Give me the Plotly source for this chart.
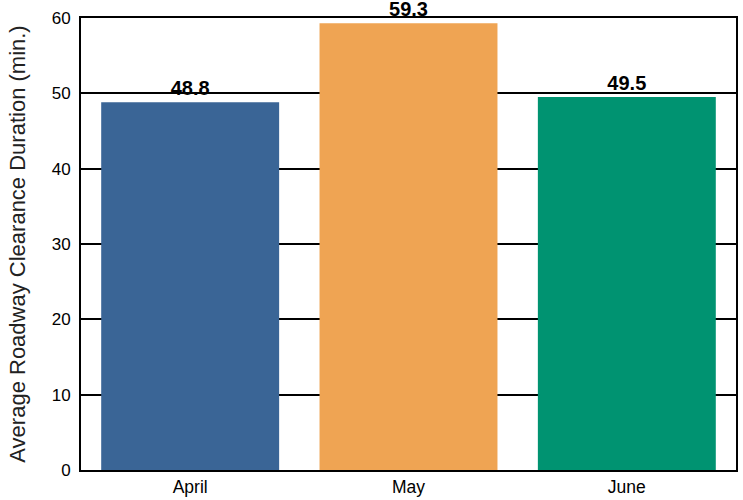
import plotly.graph_objects as go

months = ["April", "May", "June"]
durations = [48.8, 59.3, 49.5]
labels = ["48.8", "59.3", "49.5"]
colors = ["#3a6596", "#efa453", "#009371"]
y_ticks = [0, 10, 20, 30, 40, 50, 60]

fig = go.Figure(
    go.Bar(
        x=months,
        y=durations,
        marker=dict(color=colors, line=dict(width=0)),
        text=labels,
        textposition="outside",
        textfont=dict(family="Liberation Sans, Arial, sans-serif", size=20, color="black", weight="bold"),
        cliponaxis=False,
        width=0.815,
    )
)

fig.update_layout(
    width=743,
    height=500,
    margin=dict(l=81, r=7, t=18, b=30, autoexpand=False),
    paper_bgcolor="white",
    plot_bgcolor="white",
    showlegend=False,
    font=dict(family="Liberation Sans, Arial, sans-serif", color="black", size=16),
    uniformtext=dict(mode=False),
)

fig.update_xaxes(
    showline=True,
    linecolor="black",
    linewidth=2,
    mirror=True,
    showgrid=False,
    ticks="",
    automargin=False,
    tickfont=dict(size=17.5, color="black"),
)

fig.update_yaxes(
    range=[0, 60],
    tickvals=y_ticks,
    showline=True,
    linecolor="black",
    linewidth=2,
    mirror=True,
    showgrid=True,
    gridcolor="black",
    gridwidth=1.5,
    zeroline=False,
    ticks="outside",
    ticklen=5,
    tickcolor="rgba(0,0,0,0)",
    automargin=False,
    tickfont=dict(size=17, color="black"),
    title=dict(
        text="Average Roadway Clearance Duration (min.)",
        font=dict(size=22, color="#222222"),
        standoff=20,
    ),
)

fig.write_html(
    "out.html",
    config={"displayModeBar": False},
    post_script="document.body.style.margin='0';document.body.style.overflow='hidden';",
)
